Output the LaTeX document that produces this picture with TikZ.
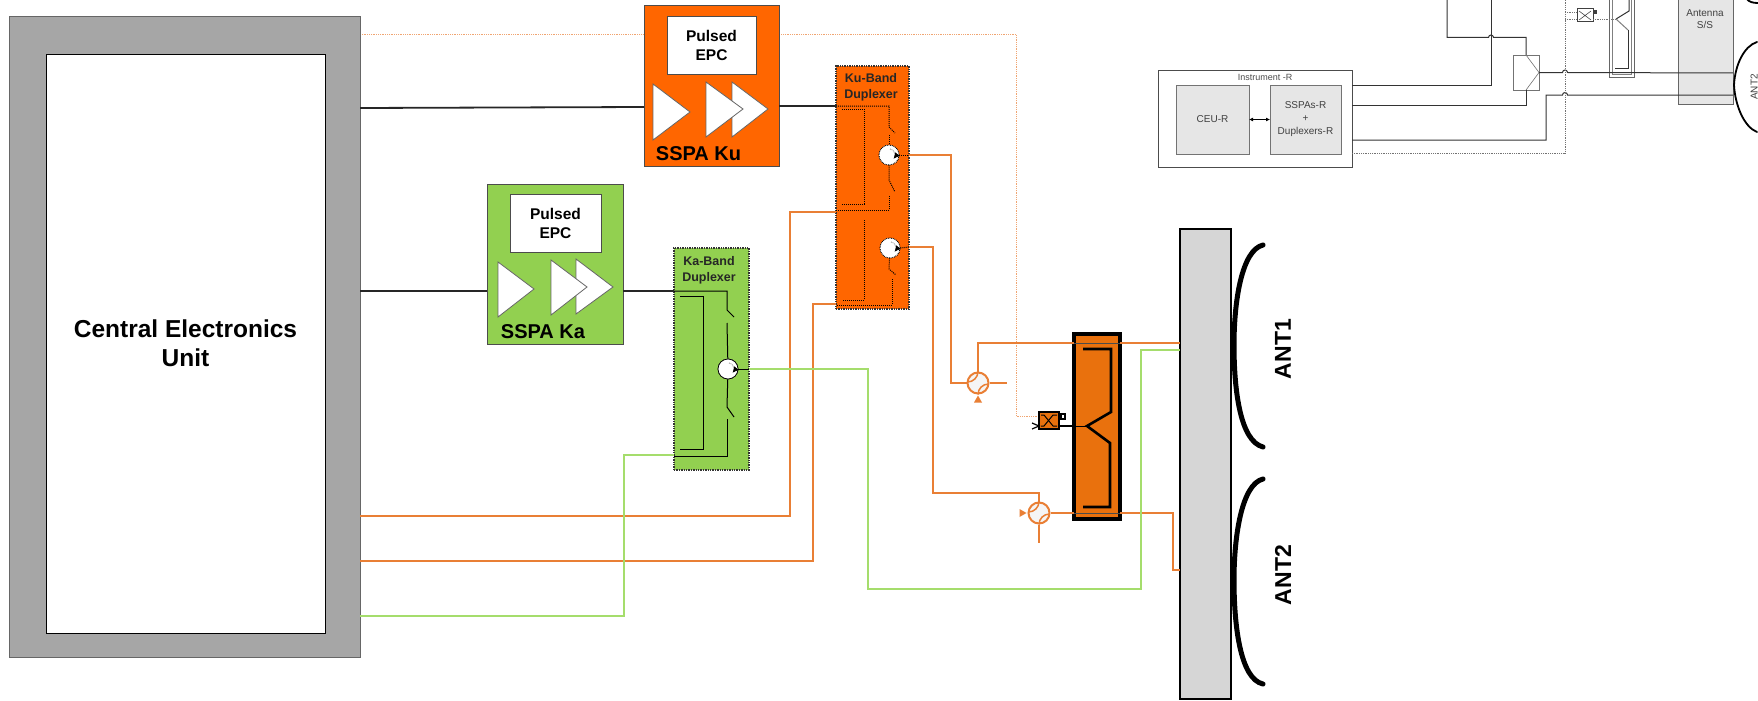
\documentclass[tikz,border=0pt]{standalone}
\usepackage{fontspec}
\setmainfont{Liberation Sans}
\usetikzlibrary{arrows.meta}
\definecolor{kuorange}{HTML}{FF6600}
\definecolor{kagreen}{HTML}{92D050}
\definecolor{lineorange}{HTML}{E97F35}
\definecolor{palegreen}{HTML}{A5DD6C}
\definecolor{oruplex}{HTML}{E9710D}
\definecolor{ceugrey}{HTML}{A6A6A6}
\definecolor{bargrey}{HTML}{D6D6D6}
\definecolor{rgrey}{HTML}{E6E6E6}
\definecolor{dimline}{HTML}{333333}
\tikzset{
  bxs/.style={inner sep=0pt,outer sep=0pt,anchor=north west,align=center},
  sspabox/.style={bxs,draw=black!70,line width=1pt},
  epcbox/.style={bxs,fill=white,draw=black!70,line width=1pt,font=\bfseries\fontsize{15.5}{19}\selectfont},
  dupbox/.style={bxs,draw=black!80,line width=1.4pt,densely dotted},
  duptext/.style={font=\bfseries\fontsize{12.5}{16.5}\selectfont,align=center,text=black!85},
  sspatext/.style={font=\bfseries\fontsize{20}{22}\selectfont},
  amp/.style={fill=white,draw=black!60,line width=.8pt},
  rf/.style={line width=1.8pt,black!85},
  orline/.style={line width=1.9pt,lineorange},
  grline/.style={line width=1.9pt,palegreen},
  kain/.style={line width=1pt,black},
  kuin/.style={line width=1pt,black,densely dotted},
  circw/.style={circle,fill=white,draw=black,line width=.7pt,inner sep=0pt,minimum size=20pt},
  circk/.style={circw,densely dotted,line width=.9pt},
  hyb/.style={circle,fill=black!4,draw=lineorange,line width=2pt,inner sep=0pt,minimum size=21pt},
  antarc/.style={line width=5pt,black,line cap=round},
  antlabel/.style={font=\bfseries\fontsize{23}{25}\selectfont,rotate=90},
  rline/.style={line width=1pt,dimline},
  rdot/.style={line width=.8pt,black!55,densely dotted},
  rbox/.style={bxs,fill=rgrey,draw=black!55,line width=1pt,text=black!75,font=\fontsize{10}{13}\selectfont},
}
\newcommand{\bx}[7][]{\node[#1,minimum width=#4-#2,minimum height=#5-#3] (#6) at (#2,#3) {#7};}
\begin{document}
\begin{tikzpicture}[x=1pt,y=-1pt]
\useasboundingbox (0,0) rectangle (1758,701);
\fill[white] (0,0) rectangle (1758,701);
\clip (0,0) rectangle (1758,701);

% --- thin telemetry dotted line, behind everything
\coordinate (tmA) at (360,34);
\coordinate (tmB) at (1016,34);
\coordinate (tmC) at (1016,416);
\coordinate (cplIn) at (1038,416);
\draw[line width=.8pt,lineorange!70,densely dotted] (tmA) -- (tmB) -- (tmC) -- (cplIn);

% --- Central electronics
\bx[bxs,fill=ceugrey,draw=black!60,line width=1pt]{9}{17}{360}{657}{ceu}{}
\bx[bxs,fill=white,draw=black,line width=.8pt,font=\bfseries\fontsize{24.5}{29}\selectfont]{46}{54}{325}{633}{ceuin}{Central Electronics\\Unit}

% --- SSPA Ku
\bx[sspabox,fill=kuorange]{644}{6}{779}{166}{sspaku}{}
\bx[epcbox]{667}{17}{756}{74}{epcku}{Pulsed\\EPC}
\draw[amp] (653,84) -- (690,112) -- (653,140) -- cycle;
\draw[amp] (732,82) -- (768,109) -- (732,137) -- cycle;
\draw[amp,fill=white] (706,82) -- (743,109) -- (706,137) -- cycle;
\node[sspatext] (lblku) at (698.5,154) {SSPA Ku};

% --- SSPA Ka
\bx[sspabox,fill=kagreen]{487}{184}{623}{344}{sspaka}{}
\bx[epcbox]{510}{194}{601}{252}{epcka}{Pulsed\\EPC}
\draw[amp] (498,262) -- (534,289) -- (498,317) -- cycle;
\draw[amp] (576,259) -- (613,287) -- (576,314) -- cycle;
\draw[amp] (551,260) -- (587,287) -- (551,315) -- cycle;
\node[sspatext] (lblka) at (543,332) {SSPA Ka};

% --- Duplexers
\bx[dupbox,fill=kuorange]{836}{66}{909}{309}{dupku}{}
\node[duptext] (lbldku) at (871,87.5) {Ku-Band\\Duplexer};
\bx[dupbox,fill=kagreen]{674}{248}{749}{470}{dupka}{}
\node[duptext] (lbldka) at (709,270.5) {Ka-Band\\Duplexer};

% --- CEU to SSPA, SSPA to duplexer
\coordinate (ceuku) at (360,108);
\coordinate (skuin) at (644,107);
\coordinate (skuout) at (779,106);
\coordinate (dkuin) at (836,106);
\coordinate (ceuka) at (360,291);
\coordinate (skain) at (487,291);
\coordinate (skaout) at (623,291);
\coordinate (dkain) at (674,291);
\draw[rf] (ceuku) -- (skuin);
\draw[rf] (skuout) -- (dkuin);
\draw[rf] (ceuka) -- (skain);
\draw[rf] (skaout) -- (dkain);

% --- Ku duplexer inside
\node[circk] (ck1) at (889,155) {};
\node[circk] (ck2) at (890,248) {};
\draw[kuin] (dkuin) -- (889,106) -- (889,127) -- (895,133);
\draw[kuin] (889,135) -- (ck1);
\draw[kuin] (ck1) -- (889,180) -- (895,192);
\draw[kuin] (889,196) -- (889,210) -- (836,210);
\draw[kuin] (842,109) -- (864,109) -- (864,204) -- (842,204);
\draw[kuin] (864,220) -- (864,300) -- (843,300);
\draw[kuin] (ck2) -- (889,269) -- (896,275);
\draw[kuin] (892,279) -- (892,305) -- (836,305);
\draw[kuin] (ck1.east) -- (909,155);
\draw[kuin] (ck2.east) -- (909,247);

% --- Ka duplexer inside
\node[circw] (ca) at (728,369) {};
\draw[kain] (dkain) -- (727,291) -- (727,310) -- (734,317);
\draw[kain] (727,323) -- (ca);
\draw[kain] (ca) -- (727,407) -- (734,417);
\draw[kain] (727,419) -- (727,456) -- (674,456);
\draw[kain] (680,296) -- (703,296) -- (703,449) -- (680,449);
\draw[kain] (ca.east) -- (749,369);

% circulator arrows: redraw the white face over the line ends
\foreach \c/\s in {ck1/circk,ck2/circk,ca/circw}{
  \node[\s] at (\c) {};
  \draw[line width=.7pt,black!65,densely dotted,-{Latex[length=6pt,width=6pt,black]}] ([shift={(1,-6)}]\c.center) arc[start angle=80,end angle=-40,radius=6pt];
}

% --- Antenna bar and antennas
\bx[bxs,fill=bargrey,draw=black,line width=2pt]{1180}{229}{1231}{699}{antbar}{}
\coordinate (an1t) at (1263,245);\coordinate (an1b) at (1263,447);
\coordinate (an2t) at (1263,479);\coordinate (an2b) at (1263,684);
\draw[antarc] (an1t) .. controls (1242,250) and (1234,300) .. (1234,345) .. controls (1234,390) and (1240,441) .. (an1b);
\draw[antarc] (an2t) .. controls (1242,484) and (1234,535) .. (1234,580) .. controls (1234,625) and (1240,679) .. (an2b);
\node[antlabel] (lant1) at (1283,349) {ANT1};
\node[antlabel] (lant2) at (1283,575) {ANT2};

% --- Orange filter box
\bx[bxs,fill=oruplex,draw=black,line width=3.5pt]{1074}{334}{1120}{519}{filt}{}
\draw[line width=.9pt,black!70] (1074,343) -- (1120,343);
\draw[line width=.9pt,black!70] (1074,513) -- (1120,513);
\draw[line width=2.6pt,black] (1083,349) -- (1111,349) -- (1111,412) -- (1087,426) -- (1110,443) -- (1110,507) -- (1083,507);

% --- Hybrids
\node[hyb] (h1) at (978,383) {};
\node[hyb] (h2) at (1039,513) {};
\foreach \h in {h1,h2}{
  \draw[line width=1.5pt,lineorange] (\h.north) arc[start angle=0,end angle=-90,radius=10.5pt];
  \draw[line width=1.5pt,lineorange] (\h.south) arc[start angle=180,end angle=90,radius=10.5pt];
}
\fill[lineorange] (h1.south) ++(0,1) -- ++(-4,7) -- ++(8,0) -- cycle;
\fill[lineorange] (h2.west) ++(-1,0) -- ++(-7,-4) -- ++(0,8) -- cycle;

% --- Orange connectors
\coordinate (o1a) at (360,516);
\coordinate (o1b) at (836,212);
\draw[orline] (o1a) -- (790,516) -- (790,212) -- (o1b);
\coordinate (o2a) at (360,561);
\coordinate (o2b) at (836,304);
\draw[orline] (o2a) -- (813,561) -- (813,304) -- (o2b);
\coordinate (o3a) at (909,155);
\draw[orline] (o3a) -- (951,155) -- (951,383) -- (h1.west);
\draw[orline] (h1.east) -- (1007,383);
\coordinate (o4a) at (909,247);
\draw[orline] (o4a) -- (933,247) -- (933,493) -- (1039,493) -- (h2.north);
\coordinate (h2s) at (1039,543);
\draw[orline] (h2.south) -- (h2s);
\coordinate (barA) at (1180,343);
\draw[orline] (h1.north) -- (978,343) -- (1074,343);
\draw[orline] (1120,343) -- (barA);
\draw[orline] (h2.east) -- (1074,513);
\coordinate (barB) at (1180,570);
\draw[orline] (1120,513) -- (1173,513) -- (1173,570) -- (barB);

% --- Green connectors
\coordinate (g1a) at (360,616);
\coordinate (g1b) at (674,455);
\draw[grline] (g1a) -- (624,616) -- (624,455) -- (g1b);
\coordinate (g2a) at (749,369);
\coordinate (barC) at (1180,350);
\draw[grline] (g2a) -- (868,369) -- (868,589) -- (1141,589) -- (1141,350) -- (barC);

% --- Coupler
\bx[bxs,fill=oruplex,draw=black,line width=2pt]{1039}{412}{1059}{429}{cpl}{}
\draw[line width=1pt,black] (1041,415) -- (1044,415) -- (1053,426) -- (1057,426);
\draw[line width=1pt,black] (1041,426) -- (1044,426) -- (1053,415) -- (1057,415);
\draw[line width=1.4pt,black,fill=white] (1061,414) rectangle (1065,419);
\coordinate (cplL) at (1032,423);
\coordinate (cplL2) at (1032,429);
\draw[line width=1.2pt,black] (cplL) -- (1039,426) -- (cplL2);
\coordinate (fIn) at (1087,426);
\draw[line width=2pt,black] (1060,426) -- (1074,426);
\draw[line width=.8pt,black] (1074,426) -- (fIn);

% --- Top-right inset
\bx[bxs,draw=black!70,fill=white,line width=.8pt]{1158}{70}{1352}{167}{inst}{}
\node[text=black!70,font=\fontsize{9}{10}\selectfont] (lblinst) at (1265,77.5) {Instrument -R};
\bx[rbox]{1176}{85}{1249}{154}{ceur}{CEU-R}
\bx[rbox]{1270}{85}{1341}{154}{sspar}{SSPAs-R\\+\\Duplexers-R}
\draw[line width=1pt,black,{Latex[length=4pt,width=4pt]}-{Latex[length=4pt,width=4pt]}] (ceur.east) -- (sspar.west);

\bx[bxs,fill=rgrey,draw=black!60,line width=.9pt]{1678}{-5}{1733}{104}{antss}{}
\node[text=black!75,font=\fontsize{10}{12}\selectfont,align=center] (lblss) at (1705,19) {Antenna\\S/S};

% inset combiner
\bx[bxs,draw=black!55,fill=white,line width=.7pt]{1513}{55}{1539}{90}{comb}{}
\draw[line width=.6pt,black!55] (1526,55) -- (1539,72.5) -- (1526,90);

% inset filter
\draw[line width=1pt,black!60] (1609,-2) -- (1609,77) -- (1634,77) -- (1634,-2);
\draw[line width=.8pt,black!50] (1612,-2) -- (1612,74) -- (1631,74) -- (1631,-2);
\draw[line width=1pt,black!80] (1629,-2) -- (1629,11) -- (1616,19);
\draw[line width=1pt,black!50] (1616,19) -- (1628,30);
\draw[line width=1pt,black!80] (1628,30) -- (1628,69) -- (1615,69);

% inset coupler
\bx[bxs,fill=white,draw=black!75,line width=1pt]{1577}{9}{1593}{22}{cplr}{}
\draw[line width=.6pt,black!70] (1579,11) -- (1591,20) (1579,20) -- (1591,11);
\fill[black!75] (1594,10) rectangle (1597,14);

% inset lines
\coordinate (r1) at (1352,85.5);
\coordinate (r1t) at (1491,-2);
\draw[rline] (r1) -- (1491,85.5) -- (r1t);
\coordinate (r2t) at (1447,-2);
\draw[rline] (r2t) -- (1447,37.5) -- (1488.5,37.5) arc[start angle=180,end angle=0,radius=2.5pt] -- (1526,37.5) -- (1526,55);
\coordinate (r3) at (1352,105);
\draw[rline] (r3) -- (1526,105) -- (1526,90);
\coordinate (r4) at (1352,140);
\coordinate (ss1) at (1733,73);
\coordinate (ss2) at (1733,95);
\draw[rline] (r4) -- (1546,140) -- (1546,95) -- (1562.5,95) arc[start angle=180,end angle=0,radius=2.5pt] -- (ss2);
\draw[rline] (1539,72.5) -- (1562.5,72.5) arc[start angle=180,end angle=0,radius=2.5pt] -- (ss1);
\coordinate (r5) at (1352,153);
\draw[rdot] (r5) -- (1565,153) -- (1565,-2);
\draw[rdot] (1565,12) -- (1577,12);
\draw[rdot] (1565,19) -- (1577,19);
\draw[rdot] (1593,19) -- (1616,19);

% inset antennas
\coordinate (ia1) at (1757,42);
\coordinate (ia2) at (1757,132);
\draw[line width=1.8pt,black,line cap=round] (ia1) .. controls (1744,46) and (1735,65) .. (1734,85) .. controls (1735,105) and (1744,127) .. (ia2);
\draw[line width=1.8pt,black,line cap=round] (1747,-1) .. controls (1749,2) and (1753,3) .. (1758,3);
\node[rotate=90,text=black!75,font=\fontsize{10}{12}\selectfont] (lant2r) at (1754,87) {ANT2};
\end{tikzpicture}
\end{document}
